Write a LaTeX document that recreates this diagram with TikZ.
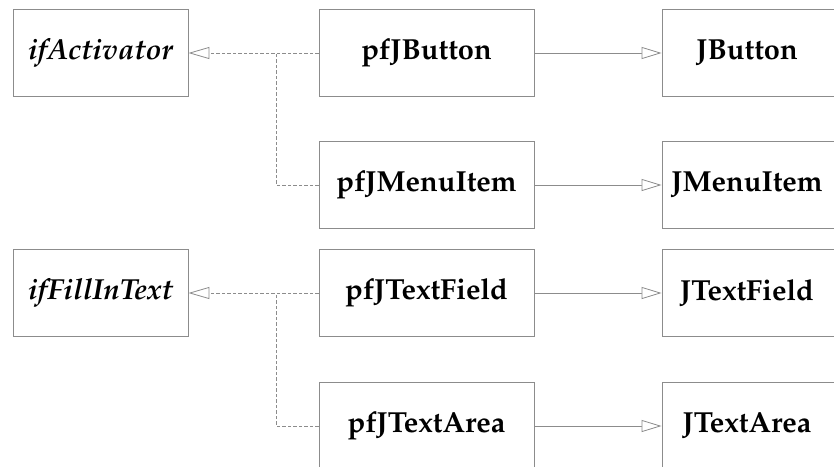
\documentclass[tikz,border=0pt]{standalone}
\usepackage[T1]{fontenc}
\usepackage{mathpazo}
\usetikzlibrary{arrows.meta}

\definecolor{edge}{gray}{0.55}

\tikzset{
  x=1pt, y=-1pt,
  boxfont/.style={font=\fontsize{29}{34}\selectfont\bfseries},
  box/.style={draw=edge, line width=0.9pt, fill=white, minimum height=87.5pt,
              inner sep=0pt, boxfont},
  ifbox/.style={box, minimum width=175pt, font=\fontsize{29}{34}\selectfont\bfseries\itshape},
  pfbox/.style={box, minimum width=215pt},
  jbox/.style={box, minimum width=215pt},
  jtext/.style={boxfont, xshift=-22.5pt},
  realize/.style={draw=edge, line width=0.8pt, dash pattern=on 3.5pt off 2pt,
                  -{Triangle[open, length=21pt, width=12pt, fill=white]}},
  realizeplain/.style={draw=edge, line width=0.8pt, dash pattern=on 3.5pt off 2pt},
  extends/.style={draw=edge, line width=0.8pt,
                  -{Triangle[open, length=20pt, width=12pt, fill=white]}},
}

\begin{document}
\begin{tikzpicture}
  \useasboundingbox (0,0) rectangle (834,466);
  \clip (0,0) rectangle (834,466);

  % interfaces
  \node[ifbox] (ifa) at (100.5,53)  {ifActivator};
  \node[ifbox] (iff) at (100.5,293) {ifFillInText};

  % pf wrapper classes
  \node[pfbox] (pfb)  at (426.5,53)  {pfJButton};
  \node[pfbox] (pfm)  at (426.5,185) {pfJMenuItem};
  \node[pfbox] (pftf) at (426.5,293) {pfJTextField};
  \node[pfbox] (pfta) at (426.5,426) {pfJTextArea};

  % swing base classes (boxes run past the right edge)
  \node[jbox, label={[jtext]center:JButton}]    (jb)  at (769.5,53)  {};
  \node[jbox, label={[jtext]center:JMenuItem}]  (jm)  at (769.5,185) {};
  \node[jbox, label={[jtext]center:JTextField}] (jtf) at (769.5,293) {};
  \node[jbox, label={[jtext]center:JTextArea}]  (jta) at (769.5,426) {};

  % junctions of the dashed realization lines
  \coordinate (j1) at (276,53);
  \coordinate (j2) at (276,293);

  % realizations
  \draw[realize] (pfb.west) -- (ifa.east);
  \draw[realizeplain] (pfm.west) -| (j1);
  \draw[realize] (pftf.west) -- (iff.east);
  \draw[realizeplain] (pfta.west) -| (j2);

  % inheritance
  \draw[extends] (pfb.east)  -- (jb.west);
  \draw[extends] (pfm.east)  -- (jm.west);
  \draw[extends] (pftf.east) -- (jtf.west);
  \draw[extends] (pfta.east) -- (jta.west);
\end{tikzpicture}
\end{document}
